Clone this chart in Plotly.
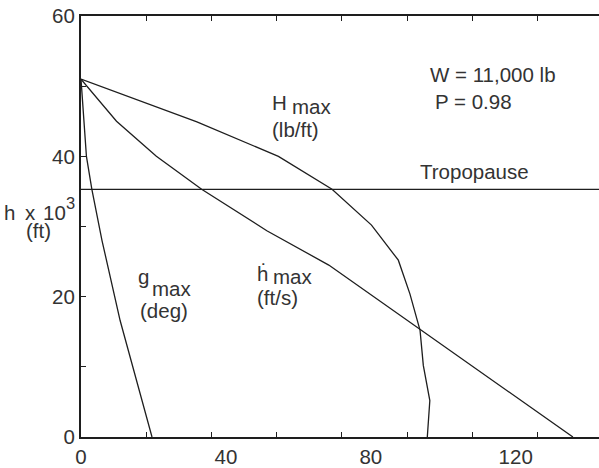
import plotly.graph_objects as go

# ---- data ----
h_max_x = [0, 32.0, 54.5, 69.3, 80.2, 87.6, 90.8, 93.6, 94.5, 96.3, 95.6]
h_max_y = [51, 44.9, 40.0, 35.3, 30.2, 25.2, 20.4, 15.2, 10.2, 5.2, 0]

hdot_max_x = [0, 9.8, 20.8, 33.3, 51.3, 68.4, 135.8]
hdot_max_y = [51, 45.0, 40.0, 35.3, 29.4, 24.5, 0]

g_max_x = [0, 1.5, 3.0, 5.8, 10.8, 19.6]
g_max_y = [51, 40.0, 35.3, 28.0, 16.6, 0]

tropopause_h = 35.3
x_range = [0, 143]
y_range = [0, 60]
x_tick_labels = [0, 40, 80, 120]
x_minor_ticks = [18, 36, 54, 72, 90, 108, 126]
y_tick_labels = [0, 20, 40, 60]

FONT = "Liberation Sans, Arial, Helvetica, sans-serif"
TXT = "#333333"
LINE = "#1e1e1e"
FS = 20.5

fig = go.Figure()
for xs, ys in [(h_max_x, h_max_y), (hdot_max_x, hdot_max_y), (g_max_x, g_max_y)]:
    fig.add_trace(go.Scatter(x=xs, y=ys, mode="lines",
                             line=dict(color=LINE, width=1.3), showlegend=False,
                             hoverinfo="skip"))
fig.add_trace(go.Scatter(x=x_range, y=[tropopause_h, tropopause_h], mode="lines",
                         line=dict(color=LINE, width=1.3), showlegend=False,
                         hoverinfo="skip"))

W, H = 599, 468
L, R, T, B = 80.7, 0, 15.7, 31.3
pw, ph = W - L - R, H - T - B


def label(text, left_px, center_py, size=FS):
    fig.add_annotation(x=(left_px - L) / pw, y=(H - B - center_py) / ph,
                       xref="paper", yref="paper", text=text,
                       xanchor="left", yanchor="middle", showarrow=False,
                       borderpad=0,
                       font=dict(family=FONT, size=size, color=TXT))


off = 0.347 * FS
label("W = 11,000 lb", 429, 81.7 - off)
label("P = 0.98", 434, 108.3 - off)
label("Tropopause", 418.5, 178.3 - off)
label("H", 270.5, 109.3 - off)
label("max", 290.5, 113 - off)
label("(lb/ft)", 270.5, 136 - off)
label("ḣ", 256, 280 - off)
label("max", 271.5, 283 - off)
label("(ft/s)", 256, 304 - off)
label("g", 137, 283.3 - off)
label("max", 150.5, 295 - off)
label("(deg)", 139, 317.7 - off)
label("h", 3, 219.3 - off)
label("x", 24, 219.3 - off)
label("10", 41.5, 219.3 - off)
label("3", 65, 208.3 - 0.347 * 16.5, size=16.5)
label("(ft)", 24.5, 237 - off)

fig.update_layout(
    width=W, height=H,
    margin=dict(l=L, r=R, t=T, b=B, pad=0),
    paper_bgcolor="white", plot_bgcolor="white",
    font=dict(family=FONT, size=FS, color=TXT),
    xaxis=dict(range=x_range, tickmode="array", tickvals=x_tick_labels,
               ticks="", showgrid=False, zeroline=False,
               showline=True, linecolor=LINE, linewidth=2, mirror="ticks",
               tickfont=dict(family=FONT, size=FS, color=TXT),
               minor=dict(tickmode="array", tickvals=x_minor_ticks, ticks="inside",
                          ticklen=5, tickcolor=LINE, tickwidth=1, showgrid=False)),
    yaxis=dict(range=y_range, tickmode="array", tickvals=y_tick_labels,
               ticks="inside", ticklen=5, tickcolor=LINE, tickwidth=1,
               showgrid=False, zeroline=False,
               showline=True, linecolor=LINE, linewidth=2, mirror=False,
               tickfont=dict(family=FONT, size=FS, color=TXT),
               minor=dict(dtick=10, tick0=0, ticks="inside", ticklen=5,
                          tickcolor=LINE, tickwidth=1, showgrid=False)),
)

fig.write_html("out.html", config={"displayModeBar": False},
               post_script="document.body.style.margin='0';document.body.style.padding='0';")
